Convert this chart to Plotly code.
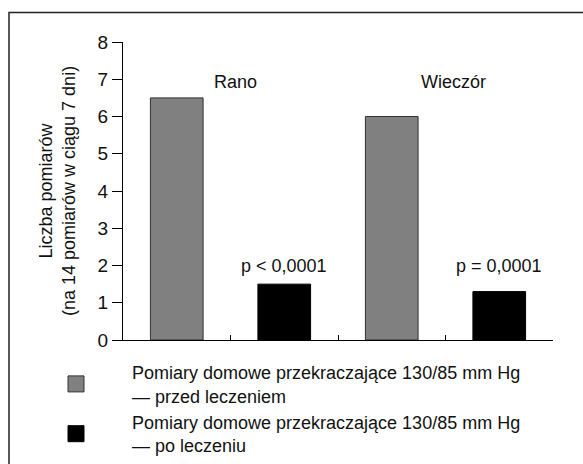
import plotly.graph_objects as go

# ---- data ----
categories = ["Rano – przed", "Rano – po", "Wieczór – przed", "Wieczór – po"]
before_cats = ["Rano – przed", "Wieczór – przed"]
before_vals = [6.5, 6.0]
after_cats = ["Rano – po", "Wieczór – po"]
after_vals = [1.5, 1.3]
series_names = [
    "Pomiary domowe przekraczające 130/85 mm Hg<br>— przed leczeniem",
    "Pomiary domowe przekraczające 130/85 mm Hg<br>— po leczeniu",
]
group_labels = ["Rano", "Wieczór"]
p_labels = ["p < 0,0001", "p = 0,0001"]
y_ticks = [0, 1, 2, 3, 4, 5, 6, 7, 8]
y_title = "Liczba pomiarów<br>(na 14 pomiarów w ciągu 7 dni)"

FONT = "Liberation Sans, Arial, sans-serif"
GRAY = "#808080"

fig = go.Figure()
fig.add_trace(go.Bar(x=before_cats, y=before_vals, width=0.49,
                     marker=dict(color=GRAY, line=dict(color="#333333", width=1)),
                     showlegend=False))
fig.add_trace(go.Bar(x=after_cats, y=after_vals, width=0.49,
                     marker=dict(color="#000000", line=dict(color="#000000", width=1)),
                     showlegend=False))
# legend entries
fig.add_trace(go.Scatter(x=[None], y=[None], mode="markers", name=series_names[0],
                         marker=dict(symbol="square", size=18, color=GRAY,
                                     line=dict(color="#333333", width=1))))
fig.add_trace(go.Scatter(x=[None], y=[None], mode="markers", name=series_names[1],
                         marker=dict(symbol="square", size=18, color="#000000",
                                     line=dict(color="#000000", width=1))))

annotations = []
for xpos, txt in zip([0.55, 2.57], group_labels):
    annotations.append(dict(x=xpos, y=6.93, xref="x", yref="y", text=txt,
                            showarrow=False, xanchor="center", yanchor="middle",
                            font=dict(family=FONT, size=18, color="#111")))
for cat, txt in zip(after_cats, p_labels):
    annotations.append(dict(x=cat, y=2.0, xref="x", yref="y", text=txt,
                            showarrow=False, xanchor="center", yanchor="middle",
                            font=dict(family=FONT, size=18, color="#111")))
annotations.append(dict(x=(57 - 123) / 430, y=0.5, xref="paper", yref="paper",
                        text=y_title, textangle=-90, showarrow=False,
                        xanchor="center", yanchor="middle",
                        font=dict(family=FONT, size=18, color="#111")))

fig.update_layout(
    width=583, height=464,
    margin=dict(l=123, r=30, t=42, b=124, autoexpand=False),
    paper_bgcolor="white", plot_bgcolor="white",
    barmode="overlay",
    font=dict(family=FONT, size=18, color="#111"),
    annotations=annotations,
    showlegend=True,
    legend=dict(xref="container", yref="container", x=20/583, y=1 - 354/464,
                xanchor="left", yanchor="top", itemwidth=102,
                font=dict(family=FONT, size=18, color="#111"),
                bgcolor="rgba(0,0,0,0)", tracegroupgap=0),
    shapes=[dict(type="rect", xref="paper", yref="paper",
                 x0=(9 - 123) / 430, x1=1.2, y0=-0.6, y1=(340 - 12.5) / 298,
                 line=dict(color="#222222", width=1.5), layer="below")],
)
fig.update_xaxes(type="category", categoryorder="array", categoryarray=categories,
                 range=[-0.5, 3.5], showticklabels=False, showgrid=False,
                 showline=True, linecolor="#000", linewidth=1,
                 ticks="inside", ticklen=5, tickcolor="#000", tickson="boundaries",
                 zeroline=False)
fig.update_yaxes(range=[0, 8], tickvals=y_ticks, showgrid=False, zeroline=False,
                 showline=True, linecolor="#000", linewidth=1,
                 ticks="outside", ticklen=10, tickcolor="#000",
                 tickfont=dict(family=FONT, size=19, color="#111"))

fig.write_html("out.html", config={"displayModeBar": False},
               post_script="document.body.style.margin='0';")
